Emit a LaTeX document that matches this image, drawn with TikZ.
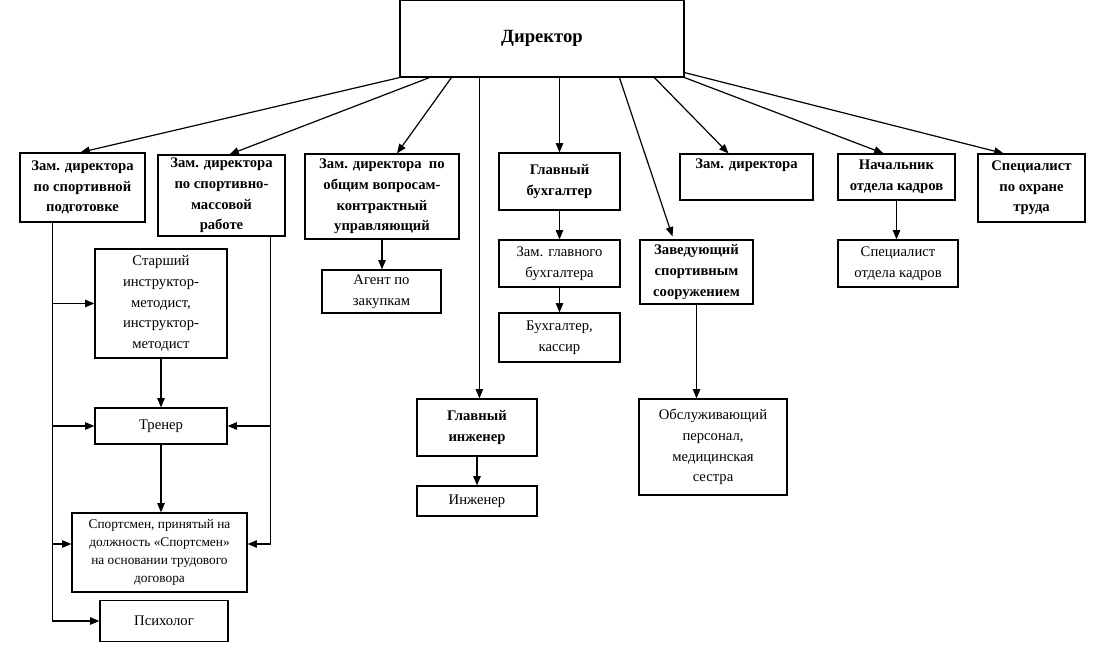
\documentclass[tikz,border=0pt]{standalone}
\usepackage{fontspec}
\setmainfont{Liberation Serif}
\usetikzlibrary{arrows.meta,calc}

\tikzset{every picture/.style={line width=0.9pt}}
\tikzset{
  staff/.style 2 args={draw, align=center, inner sep=1pt, minimum width=#1*0.75pt, minimum height=#2*0.75pt, font=\fontsize{11}{15.5}\selectfont},
  chief/.style 2 args={staff={#1}{#2}, font=\fontsize{11}{15.5}\selectfont\bfseries},
  arr/.style={-{Triangle[length=7pt,width=5.6pt]}},
}

\begin{document}
\begin{tikzpicture}[x=0.75pt,y=0.75pt,yscale=-1,xscale=1]
\useasboundingbox (0,0) rectangle (1096,656);

%Shape: Rectangle [top]
\node[chief={284}{77}, font=\fontsize{14}{17}\selectfont\bfseries] (dir) at (542,38.5) {Директор};

%Shape: Rectangle [row 1]
\node[chief={125}{69}] (zsp) at (82.5,187.5) {Зам. директора\\по спортивной\\подготовке};
\node[chief={127}{81}] (zsm) at (221.5,195.5) {Зам. директора\\по спортивно-\\массовой\\работе};
\node[chief={154}{85}] (zov) at (382,196.5) {Зам. директора \ по\\общим вопросам-\\контрактный\\управляющий};
\node[chief={121}{57}] (gb) at (559.5,181.5) {Главный\\бухгалтер};
\node[chief={133}{46}] (zd) at (746.5,177) {Зам. директора\\\strut};
\node[chief={117}{46}] (nok) at (896.5,177) {Начальник\\отдела кадров};
\node[chief={107}{68}] (spot) at (1031.5,188) {Специалист\\по охране\\труда};

%Shape: Rectangle [row 2]
\node[staff={119}{43}] (agent) at (381.5,291.5) {Агент по\\закупкам};
\node[staff={121}{47}] (zgb) at (559.5,263.5) {Зам. главного\\бухгалтера};
\node[staff={121}{49}] (buh) at (559.5,337.5) {Бухгалтер,\\кассир};
\node[chief={113}{64}] (zav) at (696.5,272) {Заведующий\\спортивным\\сооружением};
\node[staff={120}{47}] (sok) at (898,263.5) {Специалист\\отдела кадров};

%Shape: Rectangle [left column]
\node[staff={132}{109}] (sim) at (161,303.5) {Старший\\инструктор-\\методист,\\инструктор-\\методист};
\node[staff={132}{36}] (tr) at (161,426) {Тренер};
\node[staff={175}{79}, font=\fontsize{10}{13.5}\selectfont] (sport) at (159.5,552.5) {Спортсмен, принятый на\\должность «Спортсмен»\\на основании трудового\\договора};
\node[staff={128}{41}] (psy) at (164,621) {Психолог};

%Shape: Rectangle [middle]
\node[chief={120}{57}] (gi) at (477,427.5) {Главный\\инженер};
\node[staff={120}{30}] (ing) at (477,501) {Инженер};
\node[staff={148}{96}] (obs) at (713,447) {Обслуживающий\\персонал,\\медицинская\\сестра};

%Straight Lines [from director]
\coordinate (d2) at ($(dir.south west)+(30,0)$);
\coordinate (d3) at ($(dir.south west)+(52,0)$);
\coordinate (d4) at ($(dir.south west)+(80,0)$);
\coordinate (d6) at ($(dir.south west)+(220,0)$);
\coordinate (d7) at ($(dir.south west)+(255,0)$);
\draw[arr] (dir.south west) -- ($(zsp.north)+(-2,0)$);
\draw[arr] (d2) -- ($(zsm.north)+(8,0)$);
\draw[arr] (d3) -- ($(zov.north)+(15,0)$);
\draw[arr] (d4) -- (d4 |- gi.north);
\draw[arr] (gb.north |- dir.south) -- (gb.north);
\draw[arr] (d6) -- ($(zav.north)+(-24,-3)$);
\draw[arr] (d7) -- ($(zd.north)+(-18,0)$);
\draw[arr] (dir.south east) -- ($(nok.north)+(-13,0)$);
\draw[arr] ($(dir.south east)+(0,-5)$) -- ($(spot.north)+(-28,0)$);

%Straight Lines [down the branches]
\draw[arr] (zov.south) -- (zov.south |- agent.north);
\draw[arr] (gb) -- (zgb);
\draw[arr] (zgb) -- (buh);
\draw[arr] (zav.south) -- (zav.south |- obs.north);
\draw[arr] (nok.south) -- (nok.south |- sok.north);
\draw[arr] (gi) -- (ing);
\draw[arr] (sim) -- (tr);
\draw[arr] (tr) -- (sport.north -| tr.south);

%Straight Lines [left rails]
\coordinate (L) at ($(zsp.south west)+(33,0)$);
\coordinate (R) at ($(zsm.south east)+(-15,0)$);
\draw[arr] (L) -- (L |- psy.west) -- (psy.west);
\draw[arr] (L |- sim.west) -- (sim.west);
\draw[arr] (L |- tr.west) -- (tr.west);
\draw[arr] ($(L |- sport.west)+(0,-8.5)$) -- ($(sport.west)+(0,-8.5)$);
\draw[arr] (R) -- ($(R |- sport.east)+(0,-8.5)$) -- ($(sport.east)+(0,-8.5)$);
\draw[arr] (R |- tr.east) -- (tr.east);

\end{tikzpicture}
\end{document}
